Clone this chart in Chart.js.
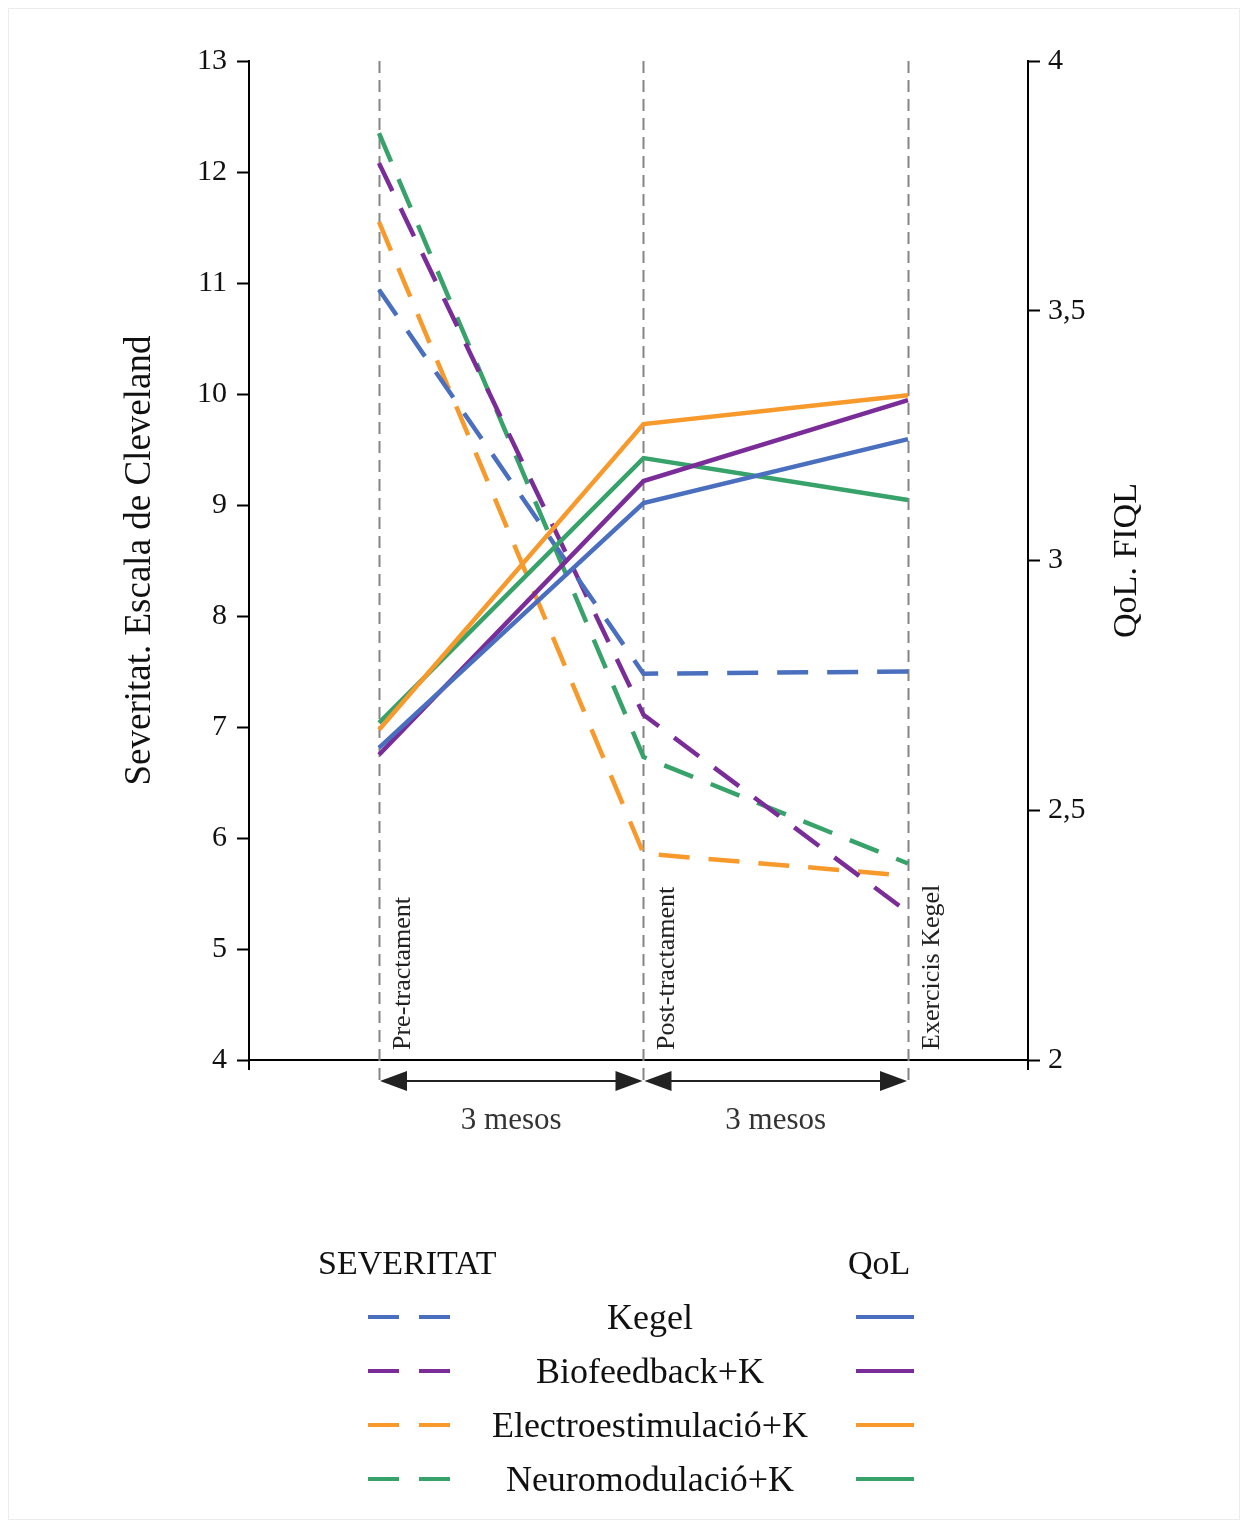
<!DOCTYPE html>
<html lang="ca">
<head>
<meta charset="utf-8">
<title>Severitat i QoL</title>
<script src="https://cdn.jsdelivr.net/npm/chart.js@4"></script>
<style>
  html, body { margin: 0; padding: 0; background: #fff; }
  #wrap { position: relative; width: 1246px; height: 1524px; overflow: hidden; }
  #frame { position: absolute; left: 8px; top: 8px; right: 6px; bottom: 4px; border: 1px solid #ececec; }
  canvas { position: absolute; left: 0; top: 0; }
  .lg { position: absolute; font-family: "Liberation Serif", serif; color: #111; white-space: nowrap; }
  .hdr { font-size: 34px; transform: translateY(-50%); }
  .lbl { font-size: 36px; transform: translate(-50%, -50%); left: 650px; }
  .sw { position: absolute; height: 4px; transform: translateY(-50%); }
</style>
</head>
<body>
<div id="wrap">
  <div id="frame"></div>
  <canvas id="chart" width="1246" height="1524"></canvas>
  <div id="legend"></div>
</div>
<script>
  // time points on the x axis
  const timeLabels = ['Pre-tractament', 'Post-tractament', 'Exercicis Kegel'];
  const timePos = [0, 1, 2];
  const intervalLabels = ['3 mesos', '3 mesos'];

  const groups = ['Kegel', 'Biofeedback+K', 'Electroestimulació+K', 'Neuromodulació+K'];

  // Severitat (escala de Cleveland), eix esquerre
  const sevKegel = [10.94, 7.48, 7.50];
  const sevBio = [12.08, 7.11, 5.33];
  const sevElectro = [11.55, 5.86, 5.66];
  const sevNeuro = [12.35, 6.73, 5.77];

  // QoL (FIQL), eix dret
  const qolKegel = [2.625, 3.115, 3.243];
  const qolBio = [2.611, 3.159, 3.321];
  const qolElectro = [2.661, 3.273, 3.331];
  const qolNeuro = [2.675, 3.205, 3.121];

  const leftTicks = [4, 5, 6, 7, 8, 9, 10, 11, 12, 13];
  const rightTicks = [2, 2.5, 3, 3.5, 4];

  const colors = ['#4a6fbf', '#7a2c98', '#f7992b', '#37a26a'];
  const sevSeries = [sevKegel, sevBio, sevElectro, sevNeuro];
  const qolSeries = [qolKegel, qolBio, qolElectro, qolNeuro];

  const FONT = '"Liberation Serif", serif';
  const toPts = vals => vals.map((v, i) => ({ x: timePos[i], y: v }));

  const datasets = [];
  groups.forEach((g, i) => {
    datasets.push({
      label: g + ' (QoL)', data: toPts(qolSeries[i]), yAxisID: 'y1',
      borderColor: colors[i], borderWidth: 4.5, pointRadius: 0, tension: 0, fill: false
    });
  });
  groups.forEach((g, i) => {
    datasets.push({
      label: g + ' (Severitat)', data: toPts(sevSeries[i]), yAxisID: 'y',
      borderColor: colors[i], borderWidth: 4.5, borderDash: [31, 19], pointRadius: 0, tension: 0, fill: false
    });
  });

  // guide lines, rotated time labels, interval arrows and axis titles
  const decorations = {
    id: 'decorations',
    beforeDatasetsDraw(chart) {
      const { ctx, chartArea: a, scales: { x } } = chart;
      ctx.save();
      ctx.strokeStyle = '#858585';
      ctx.lineWidth = 2;
      ctx.setLineDash([12, 7]);
      timePos.forEach(t => {
        const px = Math.round(x.getPixelForValue(t)) + 0.5;
        ctx.beginPath();
        ctx.moveTo(px, a.top);
        ctx.lineTo(px, a.bottom + 22);
        ctx.stroke();
      });
      ctx.setLineDash([]);
      ctx.fillStyle = '#222';
      ctx.font = '26px ' + FONT;
      ctx.textAlign = 'left';
      ctx.textBaseline = 'middle';
      timePos.forEach((t, i) => {
        const px = x.getPixelForValue(t);
        ctx.save();
        ctx.translate(px + 24, a.bottom - 10);
        ctx.rotate(-Math.PI / 2);
        ctx.fillText(timeLabels[i], 0, 0);
        ctx.restore();
      });
      ctx.restore();
    },
    afterDraw(chart) {
      const { ctx, chartArea: a, scales: { x } } = chart;
      ctx.save();
      // small overhangs of the axis frame below the baseline
      ctx.strokeStyle = '#000';
      ctx.lineWidth = 2;
      [a.left, a.right].forEach(px => {
        ctx.beginPath();
        ctx.moveTo(px, a.bottom);
        ctx.lineTo(px, a.bottom + 10);
        ctx.stroke();
      });
      // arrows between time points
      const ay = a.bottom + 21;
      ctx.strokeStyle = '#222';
      ctx.fillStyle = '#222';
      for (let i = 0; i < timePos.length - 1; i++) {
        const x0 = x.getPixelForValue(timePos[i]);
        const x1 = x.getPixelForValue(timePos[i + 1]);
        ctx.beginPath();
        ctx.moveTo(x0 + 20, ay);
        ctx.lineTo(x1 - 20, ay);
        ctx.stroke();
        ctx.beginPath();
        ctx.moveTo(x0 + 1, ay);
        ctx.lineTo(x0 + 28, ay - 10);
        ctx.lineTo(x0 + 28, ay + 10);
        ctx.closePath();
        ctx.fill();
        ctx.beginPath();
        ctx.moveTo(x1 - 1, ay);
        ctx.lineTo(x1 - 28, ay - 10);
        ctx.lineTo(x1 - 28, ay + 10);
        ctx.closePath();
        ctx.fill();
        ctx.font = '31px ' + FONT;
        ctx.textAlign = 'center';
        ctx.textBaseline = 'middle';
        ctx.fillStyle = '#333';
        ctx.fillText(intervalLabels[i], (x0 + x1) / 2, ay + 40);
        ctx.fillStyle = '#222';
      }
      // axis titles
      const midY = (a.top + a.bottom) / 2;
      ctx.fillStyle = '#111';
      ctx.textAlign = 'center';
      ctx.textBaseline = 'middle';
      ctx.font = '37px ' + FONT;
      ctx.save();
      ctx.translate(140, midY);
      ctx.rotate(-Math.PI / 2);
      ctx.fillText('Severitat. Escala de Cleveland', 0, 0);
      ctx.restore();
      ctx.font = '34px ' + FONT;
      ctx.save();
      ctx.translate(a.right + 99, midY);
      ctx.rotate(-Math.PI / 2);
      ctx.fillText('QoL. FIQL', 0, 0);
      ctx.restore();
      ctx.restore();
    }
  };

  new Chart(document.getElementById('chart'), {
    type: 'line',
    data: { datasets },
    plugins: [decorations],
    options: {
      responsive: false,
      animation: false,
      layout: { padding: { top: 61, bottom: 464, left: 0, right: 0 } },
      plugins: { legend: { display: false }, tooltip: { enabled: false } },
      scales: {
        x: {
          type: 'linear', min: -0.4915, max: 2.4537,
          grid: { display: false },
          border: { display: true, color: '#000', width: 2 },
          ticks: { display: false },
          afterFit(s) { s.height = 0; }
        },
        y: {
          position: 'left', min: leftTicks[0], max: leftTicks[leftTicks.length - 1],
          afterBuildTicks(s) { s.ticks = leftTicks.map(v => ({ value: v })); },
          afterFit(s) { s.width = 249; },
          grid: { drawOnChartArea: false, drawTicks: true, tickLength: 12, tickColor: '#000', tickWidth: 2 },
          border: { display: true, color: '#000', width: 2 },
          ticks: { color: '#111', font: { family: FONT, size: 30 }, padding: 10 }
        },
        y1: {
          position: 'right', min: rightTicks[0], max: rightTicks[rightTicks.length - 1],
          afterBuildTicks(s) { s.ticks = rightTicks.map(v => ({ value: v })); },
          afterFit(s) { s.width = 218; },
          grid: { drawOnChartArea: false, drawTicks: true, tickLength: 12, tickColor: '#000', tickWidth: 2 },
          border: { display: true, color: '#000', width: 2 },
          ticks: {
            color: '#111', font: { family: FONT, size: 30 }, padding: 8,
            callback: v => String(v).replace('.', ',')
          }
        }
      }
    }
  });

  // legend: dashed swatch = Severitat, solid swatch = QoL
  const legend = document.getElementById('legend');
  const rowY = [1317, 1371, 1425, 1479];
  let html = '<div class="lg hdr" style="left:318px;top:1263px">SEVERITAT</div>' +
             '<div class="lg hdr" style="left:848px;top:1263px">QoL</div>';
  groups.forEach((g, i) => {
    const y = rowY[i];
    html += `<div class="sw" style="left:368px;top:${y}px;width:31px;background:${colors[i]}"></div>`;
    html += `<div class="sw" style="left:419px;top:${y}px;width:31px;background:${colors[i]}"></div>`;
    html += `<div class="lg lbl" style="top:${y}px">${g}</div>`;
    html += `<div class="sw" style="left:856px;top:${y}px;width:58px;background:${colors[i]}"></div>`;
  });
  legend.innerHTML = html;
</script>
</body>
</html>
